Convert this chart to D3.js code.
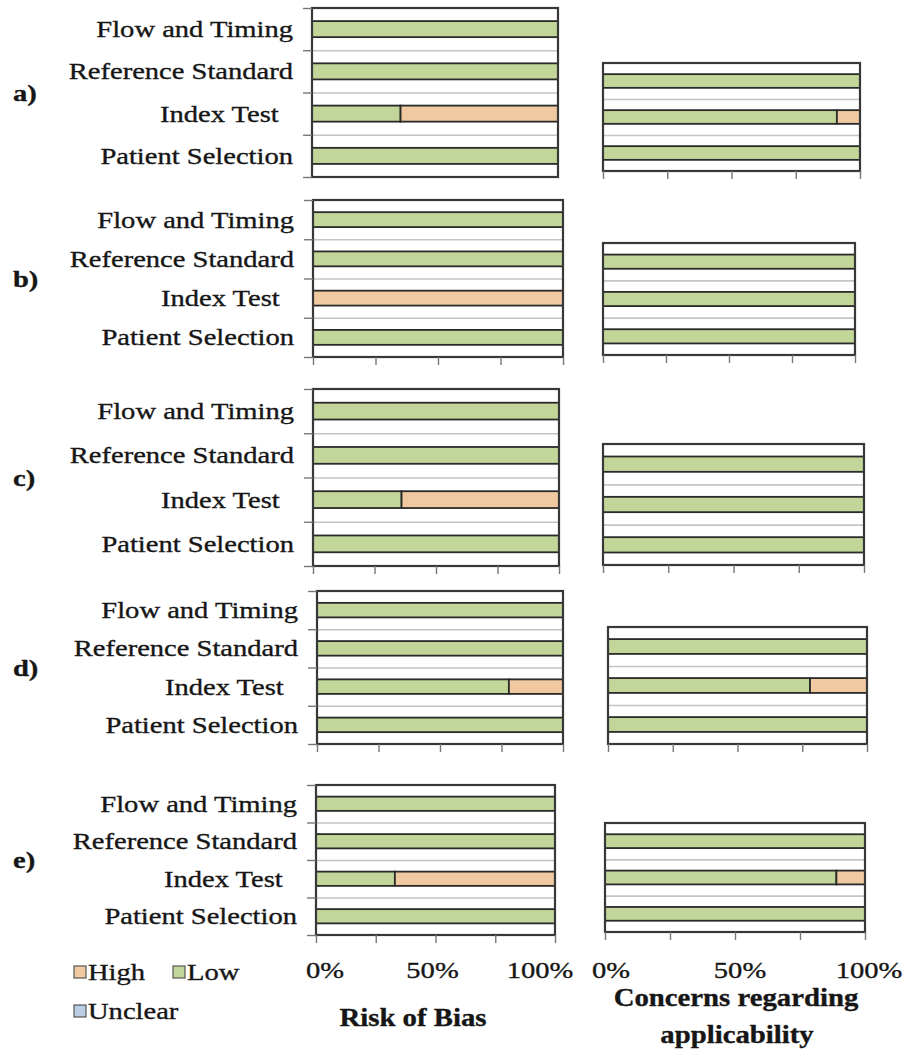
<!DOCTYPE html>
<html>
<head>
<meta charset="utf-8">
<script src="https://cdn.jsdelivr.net/npm/d3@7"></script>
<style>
  body { margin: 0; background: #fff; }
  text { font-family: "Liberation Serif", "Times New Roman", Times, serif; fill: #161616; stroke: #161616; stroke-width: 0.35px; }
</style>
</head>
<body>
<div id="chart"></div>
<script>
(function () {

  // QUADAS-2 domains, bottom to top
  const riskDomains = ['Patient Selection', 'Index Test', 'Reference Standard', 'Flow and Timing'];
  const applicDomains = ['Patient Selection', 'Index Test', 'Reference Standard'];
  const panelNames = ['a)', 'b)', 'c)', 'd)', 'e)'];
  const ratings = ['Low', 'High', 'Unclear'];

  // % of studies per rating, one row per panel, same order as the domains
  const riskLow = [[100, 36, 100, 100], [100, 0, 100, 100], [100, 36, 100, 100], [100, 78, 100, 100], [100, 33, 100, 100]];
  const riskHigh = [[0, 64, 0, 0], [0, 100, 0, 0], [0, 64, 0, 0], [0, 22, 0, 0], [0, 67, 0, 0]];
  const riskUnclear = [[0, 0, 0, 0], [0, 0, 0, 0], [0, 0, 0, 0], [0, 0, 0, 0], [0, 0, 0, 0]];

  const applicLow = [[100, 91, 100], [100, 100, 100], [100, 100, 100], [100, 78, 100], [100, 89, 100]];
  const applicHigh = [[0, 9, 0], [0, 0, 0], [0, 0, 0], [0, 22, 0], [0, 11, 0]];
  const applicUnclear = [[0, 0, 0], [0, 0, 0], [0, 0, 0], [0, 0, 0], [0, 0, 0]];

  const tickValues = [0, 25, 50, 75, 100];
  const tickLabelValues = [0, 50, 100];

  // plot boxes as placed in the figure: [left, right, top, bottom]
  const riskBoxes = [[312, 558, 8, 177], [313, 563, 200, 357], [313, 559, 389, 566], [317, 563, 591, 744], [316, 555, 785, 935]];
  const applicBoxes = [[603, 860, 63, 171], [603, 855, 243, 355], [603, 864, 444, 565], [608, 867, 627, 744], [605, 865, 823, 932]];
  // the % labels under the last row sit a bit closer together than the ticks
  const riskLabelRange = [325, 540];
  const applicLabelRange = [611, 869];

  const width = 906, height = 1051;
  const stretch = 1.19; // the figure text is a little wider than plain Times

  const colour = d3.scaleOrdinal()
    .domain(ratings)
    .range(['#c2d69a', '#f0c9a1', '#b9cde5']);

  const svg = d3.select('#chart')
    .append('svg')
    .attr('width', width)
    .attr('height', height);

  const label = (g, x, y, txt, anchor, size, bold, sx) =>
    g.append('text')
      .attr('transform', `translate(${x},${y}) scale(${sx || stretch},1)`)
      .attr('text-anchor', anchor)
      .style('font-size', size + 'px')
      .style('font-weight', bold ? 'bold' : 'normal')
      .text(txt);

  function drawChart(box, domains, low, high, unclear, opts) {
    const [left, right, top, bottom] = box;
    const n = domains.length;
    const g = svg.append('g');

    const rows = domains.map((d, i) => ({ domain: d, Low: low[i], High: high[i], Unclear: unclear[i] }));
    const stack = d3.stack().keys(ratings)(rows);

    const x = d3.scaleLinear().domain([0, 100]).range([left, right]);
    const y = d3.scaleBand().domain(domains).range([bottom, top]).paddingInner(0.62).paddingOuter(0.31);
    const yb = d3.scaleLinear().domain([0, n]).range([bottom, top]);

    g.append('rect')
      .attr('x', left).attr('y', top)
      .attr('width', right - left).attr('height', bottom - top)
      .attr('fill', '#fff');

    // gridlines between domains
    g.append('g')
      .attr('transform', `translate(${left},0)`)
      .call(d3.axisLeft(yb).tickValues(d3.range(1, n)).tickSize(-(right - left)).tickFormat(''))
      .call(a => a.select('.domain').remove())
      .call(a => a.selectAll('line').attr('stroke', '#c4c4c4').attr('stroke-width', 1.6));

    g.selectAll('.serie')
      .data(stack)
      .enter()
      .append('g')
      .attr('fill', d => colour(d.key))
      .selectAll('rect')
      .data(d => d.filter(p => p[1] - p[0] > 0))
      .enter()
      .append('rect')
      .attr('x', d => x(d[0]))
      .attr('width', d => x(d[1]) - x(d[0]))
      .attr('y', d => y(d.data.domain))
      .attr('height', y.bandwidth())
      .attr('stroke', '#2a2a2a')
      .attr('stroke-width', 1.8);

    g.append('rect')
      .attr('x', left).attr('y', top)
      .attr('width', right - left).attr('height', bottom - top)
      .attr('fill', 'none')
      .attr('stroke', '#383838')
      .attr('stroke-width', 2.2);

    if (opts.yTicks) {
      g.append('g')
        .attr('transform', `translate(${left},0)`)
        .call(d3.axisLeft(yb).tickValues(d3.range(n + 1)).tickSize(9).tickFormat(''))
        .call(a => a.select('.domain').remove())
        .call(a => a.selectAll('line').attr('stroke', '#777').attr('stroke-width', 1.4));

      domains.forEach(d => {
        const txt = d === 'Index Test' ? 'Index Test\u00a0\u00a0' : d;
        label(g, left - 19, y(d) + y.bandwidth() / 2 + 8, txt, 'end', 24, false);
      });
    }

    if (opts.xTicks) {
      g.append('g')
        .attr('transform', `translate(0,${bottom})`)
        .call(d3.axisBottom(x).tickValues(tickValues).tickSize(8).tickFormat(''))
        .call(a => a.select('.domain').remove())
        .call(a => a.selectAll('line').attr('stroke', '#777').attr('stroke-width', 1.4));
    }

    if (opts.labelRange) {
      const xl = d3.scaleLinear().domain([0, 100]).range(opts.labelRange);
      tickLabelValues.forEach(v => label(g, xl(v), 978, v + '%', 'middle', 24, false));
    }
  }

  panelNames.forEach((name, i) => {
    const last = i === panelNames.length - 1;
    drawChart(riskBoxes[i], riskDomains, riskLow[i], riskHigh[i], riskUnclear[i],
      { yTicks: true, xTicks: i > 0, labelRange: last ? riskLabelRange : null });
    drawChart(applicBoxes[i], applicDomains, applicLow[i], applicHigh[i], applicUnclear[i],
      { yTicks: false, xTicks: true, labelRange: last ? applicLabelRange : null });

    const box = riskBoxes[i];
    label(svg, 13, (box[2] + box[3]) / 2 + 8, name, 'start', 24, true);
  });

  // legend
  const legendItems = [
    { key: 'High', x: 74, y: 966 },
    { key: 'Low', x: 173, y: 966 },
    { key: 'Unclear', x: 74, y: 1005 }
  ];
  const legend = svg.append('g').attr('class', 'legend');
  legendItems.forEach(d => {
    legend.append('rect')
      .attr('x', d.x).attr('y', d.y)
      .attr('width', 12).attr('height', 12)
      .attr('fill', colour(d.key))
      .attr('stroke', '#555')
      .attr('stroke-width', 1.2);
    label(legend, d.x + 14, d.y + 14, d.key, 'start', 24, false);
  });

  // axis titles
  label(svg, 413, 1026, 'Risk of Bias', 'middle', 25, true, 1.15);
  label(svg, 736, 1006, 'Concerns regarding', 'middle', 25, true, 1.15);
  label(svg, 737, 1043, 'applicability', 'middle', 25, true, 1.15);

})();
</script>
</body>
</html>
